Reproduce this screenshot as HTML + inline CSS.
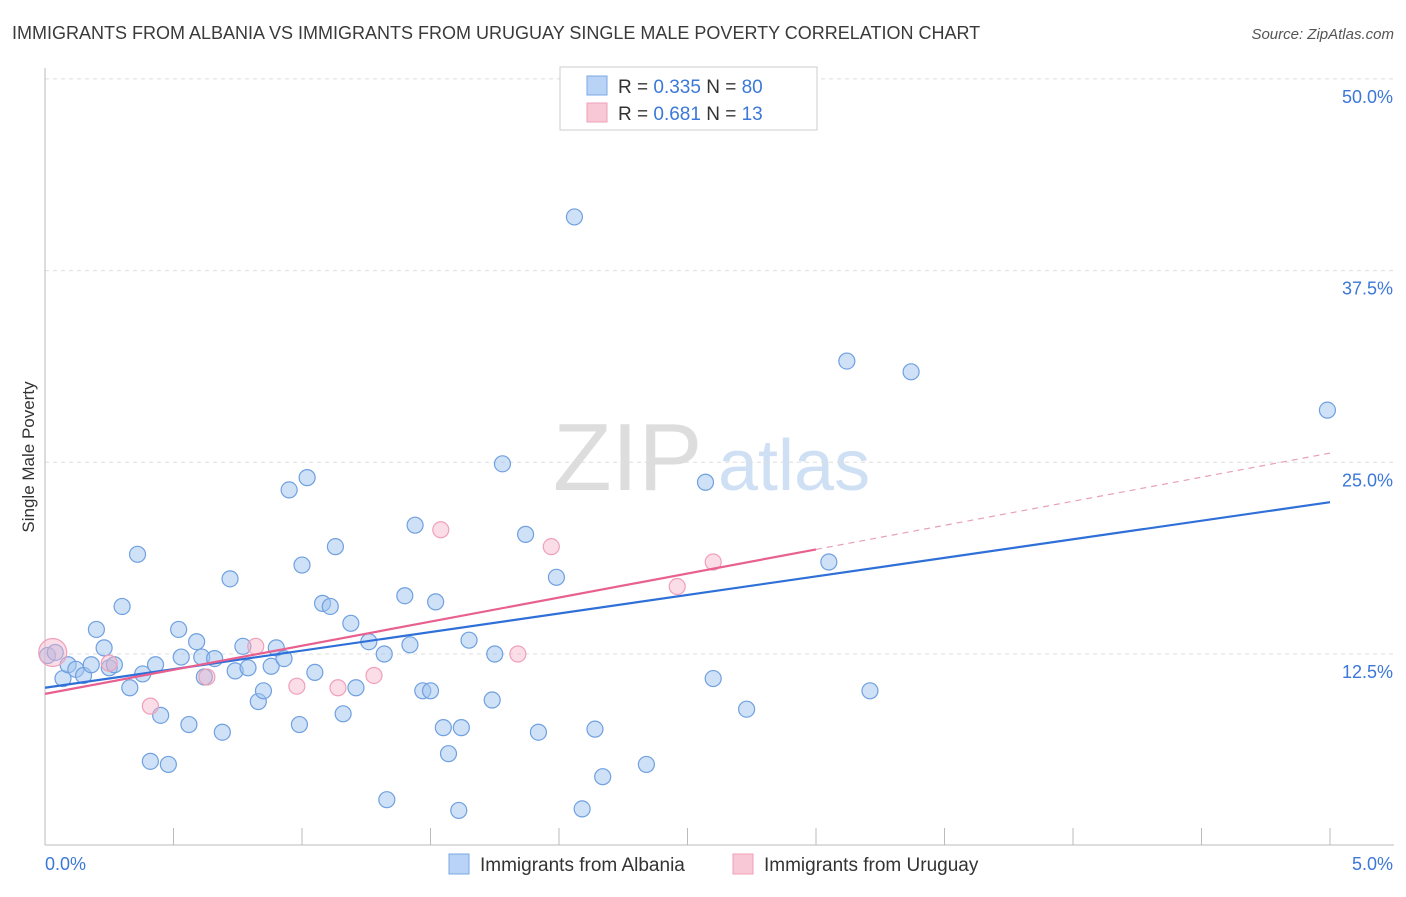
<!DOCTYPE html>
<html><head><meta charset="utf-8"><style>
body{margin:0;background:#fff;font-family:"Liberation Sans",sans-serif;}
svg text{font-family:"Liberation Sans",sans-serif;}
</style></head><body>
<svg id="chart" width="1406" height="892" xmlns="http://www.w3.org/2000/svg">
<text x="12" y="39" font-size="18" fill="#3a3a3a">IMMIGRANTS FROM ALBANIA VS IMMIGRANTS FROM URUGUAY SINGLE MALE POVERTY CORRELATION CHART</text>
<text x="1394" y="39" font-size="15" fill="#555" text-anchor="end" font-style="italic">Source: ZipAtlas.com</text>
<text x="553" y="490" font-size="96" fill="#ddd" font-family="Liberation Serif">ZIP</text>
<text x="718" y="490" font-size="72" fill="#cfe0f4">atlas</text>
<g id="grid"></g><g id="axes"></g><g id="marks"></g>
<text transform="translate(34,457) rotate(-90)" font-size="17" fill="#333" text-anchor="middle">Single Male Poverty</text>
<g>
<rect x="560" y="67" width="257" height="63" fill="#fff" stroke="#ccc"/>
<rect x="587" y="76" width="20" height="19" fill="#b8d3f5" stroke="#7aa8e6"/>
<rect x="587" y="103" width="20" height="19" fill="#f9c8d6" stroke="#f0a0b8"/>
<text x="618" y="93" font-size="19" fill="#333">R = <tspan fill="#3b78d8">0.335</tspan>   N = <tspan fill="#3b78d8">80</tspan></text>
<text x="618" y="120" font-size="19" fill="#333">R =  <tspan fill="#3b78d8">0.681</tspan>   N =  <tspan fill="#3b78d8">13</tspan></text>
</g>
<g>
<rect x="449" y="854" width="20" height="20" fill="#b8d3f5" stroke="#7aa8e6"/>
<text x="480" y="871" font-size="19" fill="#333">Immigrants from Albania</text>
<rect x="733" y="854" width="20" height="20" fill="#f9c8d6" stroke="#f0a0b8"/>
<text x="764" y="871" font-size="19" fill="#333">Immigrants from Uruguay</text>
</g>
</svg>
<script>
const blueX=[0.01,0.04,0.07,0.09,0.12,0.15,0.18,0.2,0.23,0.25,0.27,0.3,0.33,0.36,0.38,0.41,0.43,0.45,0.48,0.52,0.53,0.56,0.59,0.61,0.62,0.66,0.69,0.72,0.74,0.77,0.79,0.83,0.85,0.88,0.9,0.93,0.95,0.99,1.0,1.02,1.05,1.08,1.11,1.13,1.16,1.19,1.21,1.26,1.32,1.33,1.4,1.42,1.44,1.47,1.5,1.52,1.55,1.57,1.61,1.62,1.65,1.74,1.75,1.78,1.87,1.92,1.99,2.06,2.09,2.14,2.17,2.34,2.57,2.6,2.73,3.05,3.12,3.21,3.37,4.99];
const blueY=[12.4,12.6,10.9,11.8,11.5,11.1,11.8,14.1,12.9,11.6,11.8,15.6,10.3,19.0,11.2,5.5,11.8,8.5,5.3,14.1,12.3,7.9,13.3,12.3,11.0,12.2,7.4,17.4,11.4,13.0,11.6,9.4,10.1,11.7,12.9,12.2,23.2,7.9,18.3,24.0,11.3,15.8,15.6,19.5,8.6,14.5,10.3,13.3,12.5,3.0,16.3,13.1,20.9,10.1,10.1,15.9,7.7,6.0,2.3,7.7,13.4,9.5,12.5,24.9,20.3,7.4,17.5,41.0,2.4,7.6,4.5,5.3,23.7,10.9,8.9,18.5,31.6,10.1,30.9,28.4];
const pinkX=[0.03,0.25,0.41,0.63,0.82,0.98,1.14,1.28,1.54,1.84,1.97,2.46,2.6];
const pinkY=[12.6,11.9,9.1,11.0,13.0,10.4,10.3,11.1,20.6,12.5,19.5,16.9,18.5];
const blueLine=[10.3,22.4];
const pinkLine=[9.9,25.6];
const pinkSolidEnd=3.0;
const yTicks=[12.5,25.0,37.5,50.0];
const xTickLabels=["0.0%","5.0%"];
const NS="http://www.w3.org/2000/svg";
const X=v=>45+v*257, Y=v=>845.7-v*15.336;
function mk(tag,attrs,parent){const e=document.createElementNS(NS,tag);for(const k in attrs)e.setAttribute(k,attrs[k]);parent.appendChild(e);return e;}
const grid=document.getElementById('grid'),axes=document.getElementById('axes'),marks=document.getElementById('marks');
yTicks.forEach(t=>{
 const l=mk('line',{x1:45,x2:1394,y1:Y(t),y2:Y(t),stroke:'#ddd','stroke-dasharray':'4,4'},grid);
 
 
 const tx=mk('text',{x:1393,y:Y(t)+24,'font-size':18,fill:'#3b78d8','text-anchor':'end'},axes);
 tx.textContent=t.toFixed(1)+'%';
 
 
});
mk('line',{x1:45,x2:1394,y1:845,y2:845,stroke:'#bbb'},axes);
mk('line',{x1:45,x2:45,y1:68,y2:845,stroke:'#bbb'},axes);
for(let i=0;i<=10;i++){mk('line',{x1:X(i*0.5),x2:X(i*0.5),y1:828,y2:845,stroke:'#bbb'},axes);}
xTickLabels.forEach((s,i)=>{
 const tx=mk('text',{x:i?1393:45,y:870,'font-size':18,fill:'#3b78d8','text-anchor':i?'end':'start'},axes);
 tx.textContent=s;
 
 
});
blueX.forEach((x,i)=>{
 const c=mk('circle',{cx:X(x),cy:Y(blueY[i]),r:8,fill:'rgba(160,195,240,0.5)',stroke:'#6fa0e0','stroke-width':1.2},marks);
 
 
});
pinkX.forEach((x,i)=>{
 const c=mk('circle',{cx:X(x),cy:Y(pinkY[i]),r:i==0?14:8,fill:'rgba(245,180,200,0.45)',stroke:'#f0a0b8','stroke-width':1.2},marks);
 
 
});
const bl=mk('line',{x1:X(0),y1:Y(blueLine[0]),x2:X(5),y2:Y(blueLine[1]),stroke:'#2e6fd8','stroke-width':2.2},marks);


const pAt=x=>pinkLine[0]+(pinkLine[1]-pinkLine[0])*x/5;
const pl=mk('line',{x1:X(0),y1:Y(pinkLine[0]),x2:X(pinkSolidEnd),y2:Y(pAt(pinkSolidEnd)),stroke:'#e8608f','stroke-width':2.2},marks);


const pd=mk('line',{x1:X(pinkSolidEnd),y1:Y(pAt(pinkSolidEnd)),x2:X(5),y2:Y(pinkLine[1]),stroke:'#e8a0b8','stroke-width':1.2,'stroke-dasharray':'6,5'},marks);


</script>
</body></html>
